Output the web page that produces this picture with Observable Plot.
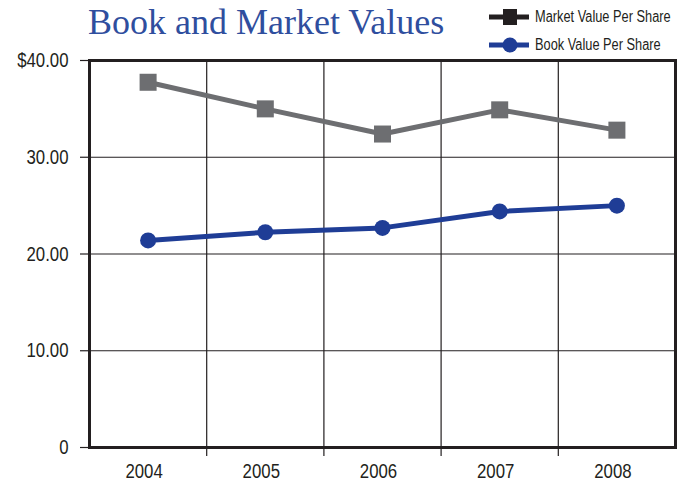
<!DOCTYPE html>
<html>
<head>
<meta charset="utf-8">
<script src="https://cdn.jsdelivr.net/npm/d3@7"></script>
<script src="https://cdn.jsdelivr.net/npm/@observablehq/plot@0.6"></script>
<style>
  html, body { margin: 0; padding: 0; background: #fff; }
  #wrap { position: relative; width: 693px; height: 483px; overflow: hidden; }
  #title { position: absolute; left: 88px; top: 1px; font-family: "Liberation Serif", "DejaVu Serif", serif; font-size: 36px; color: #2f4e9e; white-space: nowrap; }
  .legend-item { position: absolute; height: 20px; white-space: nowrap; }
  .legend-item svg { position: absolute; left: 0; top: 1px; }
  .legend-item span { position: absolute; left: 46px; top: 0; line-height: 20px; font-family: "Liberation Sans", Arial, sans-serif; font-size: 16px; color: #231f20; display: inline-block; transform: scaleX(0.8); transform-origin: left center; }
  #chart { position: absolute; left: 0; top: 0; }
</style>
</head>
<body>
<div id="wrap">
  <div id="chart"></div>
  <div id="title">Book and Market Values</div>
</div>
<script>
const years = [2004, 2005, 2006, 2007, 2008];
const marketValue = [37.75, 35.0, 32.4, 34.9, 32.8];
const bookValue = [21.4, 22.25, 22.7, 24.4, 25.0];
const yTicks = [0, 10, 20, 30, 40];
const yTickLabels = ["0", "10.00", "20.00", "30.00", "$40.00"];
const seriesNames = ["Market Value Per Share", "Book Value Per Share"];
const seriesColors = ["#6d6e71", "#1f3d96"];
const legendColors = ["#231f20", "#1f3d96"];

const market = years.map((y, i) => ({year: y, value: marketValue[i]}));
const book = years.map((y, i) => ({year: y, value: bookValue[i]}));
const boundaries = years.slice(1).map(y => y - 0.5);

const chart = Plot.plot({
  width: 693,
  height: 483,
  marginLeft: 89,
  marginRight: 18,
  marginTop: 60,
  marginBottom: 36,
  style: {fontFamily: `"Liberation Sans", Arial, sans-serif`, fontSize: "21px", color: "#231f20", background: "transparent"},
  x: {type: "linear", domain: [years[0] - 0.5, years[years.length - 1] + 0.5]},
  y: {domain: [0, 40]},
  marks: [
    Plot.ruleY(yTicks.slice(1, -1), {stroke: "#231f20", strokeWidth: 1.2}),
    Plot.ruleX(boundaries, {stroke: "#231f20", strokeWidth: 1.2, insetBottom: -9}),
    Plot.axisY(yTicks, {tickSize: 9, tickPadding: 12, tickFormat: d => yTickLabels[yTicks.indexOf(d)], stroke: "#231f20", strokeWidth: 1.2, label: null, fontSize: 21}),
    Plot.axisX(years, {tickSize: 0, tickPadding: 16, tickFormat: d => String(d), label: null, fontSize: 21, dx: -4}),
    Plot.frame({stroke: "#231f20", strokeWidth: 3}),
    Plot.line(market, {x: "year", y: "value", stroke: seriesColors[0], strokeWidth: 5}),
    Plot.dot(market, {x: "year", y: "value", symbol: "square", r: 9.6, fill: seriesColors[0]}),
    Plot.line(book, {x: "year", y: "value", stroke: seriesColors[1], strokeWidth: 5}),
    Plot.dot(book, {x: "year", y: "value", symbol: "circle", r: 8, fill: seriesColors[1]})
  ]
});

// Condense the axis label glyphs horizontally (narrow sans look)
const isNum = s => s != null && s !== "" && /^-?[\d.]+$/.test(s.trim());
d3.select(chart).selectAll('g[aria-label$="tick label"] text').each(function() {
  let tx = 0;
  for (const a of ["x", "dx"]) {
    const v = this.getAttribute(a);
    if (isNum(v)) { tx += +v; this.removeAttribute(a); }
  }
  const t = this.getAttribute("transform") || "";
  this.setAttribute("transform", `${t} translate(${tx},0) scale(0.8,1)`);
});
document.getElementById("chart").appendChild(chart);

const wrap = document.getElementById("wrap");
const legendTops = [7, 35];
seriesNames.forEach((name, i) => {
  const div = document.createElement("div");
  div.className = "legend-item";
  div.style.left = "489px";
  div.style.top = legendTops[i] + "px";
  const shape = i === 0
    ? `<rect x="14" y="1" width="14" height="16" fill="${legendColors[i]}"/>`
    : `<circle cx="21" cy="9" r="7.5" fill="${legendColors[i]}"/>`;
  div.innerHTML = `<svg width="40" height="18"><line x1="0" x2="40" y1="9" y2="9" stroke="${legendColors[i]}" stroke-width="5"/>${shape}</svg><span>${name}</span>`;
  wrap.appendChild(div);
});
</script>
</body>
</html>
